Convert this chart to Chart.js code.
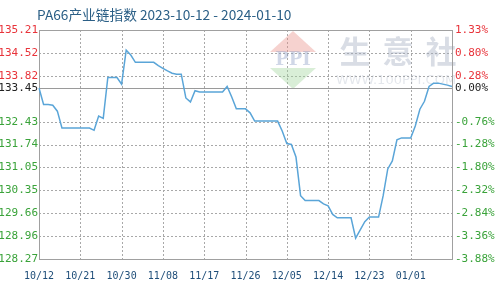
<!DOCTYPE html>
<html><head><meta charset="utf-8">
<script src="https://cdn.jsdelivr.net/npm/chart.js@4"></script>
<style>html,body{margin:0;padding:0;background:#fff}#wrap{width:499px;height:288px;position:relative}</style>
</head><body><div id="wrap"><canvas id="c"></canvas></div>
<script>
const titleText = 'PA66产业链指数 2023-10-12 - 2024-01-10';
const dates = [
'10/12','10/13','10/14','10/15','10/16','10/17','10/18','10/19','10/20','10/21',
'10/22','10/23','10/24','10/25','10/26','10/27','10/28','10/29','10/30','10/31',
'11/01','11/02','11/03','11/04','11/05','11/06','11/07','11/08','11/09','11/10',
'11/11','11/12','11/13','11/14','11/15','11/16','11/17','11/18','11/19','11/20',
'11/21','11/22','11/23','11/24','11/25','11/26','11/27','11/28','11/29','11/30',
'12/01','12/02','12/03','12/04','12/05','12/06','12/07','12/08','12/09','12/10',
'12/11','12/12','12/13','12/14','12/15','12/16','12/17','12/18','12/19','12/20',
'12/21','12/22','12/23','12/24','12/25','12/26','12/27','12/28','12/29','12/30',
'12/31','01/01','01/02','01/03','01/04','01/05','01/06','01/07','01/08','01/09','01/10'];
const indexValues = [
133.45,132.95,132.95,132.93,132.75,132.24,132.24,132.24,132.24,132.24,
132.24,132.24,132.17,132.60,132.53,133.77,133.77,133.77,133.57,134.60,
134.45,134.23,134.23,134.23,134.23,134.23,134.13,134.05,133.97,133.90,
133.87,133.87,133.15,133.03,133.37,133.33,133.33,133.33,133.33,133.33,
133.33,133.50,133.18,132.82,132.82,132.82,132.70,132.45,132.45,132.45,
132.45,132.45,132.45,132.15,131.77,131.74,131.36,130.19,130.04,130.04,
130.04,130.04,129.94,129.88,129.62,129.52,129.52,129.52,129.52,128.90,
129.15,129.40,129.54,129.54,129.54,130.19,131.00,131.24,131.88,131.94,
131.94,131.94,132.30,132.81,133.05,133.50,133.60,133.60,133.57,133.54,133.50];
const xTickLabels = ['10/12','10/21','10/30','11/08','11/17','11/26','12/05','12/14','12/23','01/01'];
const yTicks = [128.27,128.96,129.66,130.35,131.05,131.74,132.43,133.45,133.82,134.52,135.21];
const pctTicks = ['-3.88%','-3.36%','-2.84%','-2.32%','-1.80%','-1.28%','-0.76%','0.00%','0.28%','0.80%','1.33%'];
const baseValue = 133.45;
const yMin = 128.27, yMax = 135.21;

const RED = '#e8333a', GREEN = '#3aa33a', BASE = '#222';
const colorFor = v => Math.abs(v - baseValue) < 1e-6 ? BASE : (v > baseValue ? RED : GREEN);
const monoFont = {family: '"DejaVu Sans Mono", monospace', size: 10};

const decor = {
  id: 'decor',
  beforeDatasetsDraw(chart) {
    const {ctx, chartArea: a} = chart;
    const xs = chart.scales.x, ys = chart.scales.y;
    ctx.save();
    ctx.lineWidth = 1;
    ctx.strokeStyle = '#a8a8a8';
    ctx.setLineDash([2, 2]);
    ctx.beginPath();
    for (let i = 0; i < xs.ticks.length; i++) {
      const px = Math.round(xs.getPixelForTick(i)) + 0.5;
      ctx.moveTo(px, a.top); ctx.lineTo(px, a.bottom);
    }
    for (const v of yTicks) {
      if (Math.abs(v - baseValue) < 1e-6) continue;
      const py = Math.round(ys.getPixelForValue(v)) + 0.5;
      ctx.moveTo(a.left, py); ctx.lineTo(a.right, py);
    }
    ctx.stroke();
    ctx.setLineDash([]);
    // watermark logo
    const cx = 293;
    ctx.globalAlpha = 0.4;
    ctx.fillStyle = '#e98f88';
    ctx.beginPath(); ctx.moveTo(cx, 31); ctx.lineTo(cx + 23, 52); ctx.lineTo(cx - 23, 52); ctx.closePath(); ctx.fill();
    ctx.fillStyle = '#9fd59a';
    ctx.beginPath(); ctx.moveTo(cx - 23, 68); ctx.lineTo(cx + 23, 68); ctx.lineTo(cx, 89); ctx.closePath(); ctx.fill();
    ctx.fillStyle = '#8a9cc4';
    ctx.font = 'bold 18px "DejaVu Serif", serif';
    ctx.textAlign = 'center'; ctx.textBaseline = 'middle';
    ctx.fillText('PPI', cx, 60);
    ctx.globalAlpha = 0.42;
    ctx.fillStyle = '#a4afc0';
    ctx.font = 'bold 31px "Noto Sans CJK SC", sans-serif';
    ['生', '意', '社'].forEach((ch, i) => ctx.fillText(ch, 355 + i * 43, 51));
    ctx.globalAlpha = 0.3;
    ctx.font = '13px "DejaVu Sans", sans-serif';
    ctx.fillText('WWW.100PPI.COM', 396, 81);
    ctx.globalAlpha = 1;
    // baseline
    const yb = Math.round(ys.getPixelForValue(baseValue)) + 0.5;
    ctx.strokeStyle = '#9a9a9a'; ctx.lineWidth = 1.2;
    ctx.beginPath(); ctx.moveTo(a.left, yb); ctx.lineTo(a.right, yb); ctx.stroke();
    // frame
    ctx.strokeStyle = '#a0a0a0'; ctx.lineWidth = 1;
    ctx.strokeRect(Math.round(a.left) + 0.5, Math.round(a.top) + 0.5, Math.round(a.right - a.left), Math.round(a.bottom - a.top));
    ctx.restore();
  },
  afterDraw(chart) {
    const {ctx} = chart;
    ctx.save();
    ctx.fillStyle = '#2b5f86';
    ctx.font = '13.7px "Noto Sans CJK SC", "DejaVu Sans", sans-serif';
    ctx.textAlign = 'left'; ctx.textBaseline = 'middle';
    ctx.fillText(titleText, 37, 15);
    ctx.restore();
  }
};

new Chart(document.getElementById('c'), {
  type: 'line',
  data: {
    labels: dates,
    datasets: [{
      data: indexValues,
      borderColor: '#5aa5d8',
      borderWidth: 1.5,
      pointRadius: 0,
      tension: 0,
      fill: false
    }]
  },
  options: {
    responsive: true,
    maintainAspectRatio: false,
    animation: false,
    layout: {padding: {top: 30, right: 0, bottom: 0, left: 0}},
    plugins: {legend: {display: false}, tooltip: {enabled: false}, title: {display: false}},
    scales: {
      x: {
        type: 'category',
        offset: false,
        afterBuildTicks(scale) {
          scale.ticks = scale.ticks.filter(t => xTickLabels.includes(dates[t.value]) && t.value < dates.length - 1);
        },
        afterFit(scale) { scale.height = 29; },
        ticks: {autoSkip: false, maxRotation: 0, color: '#1f4e79', font: monoFont, padding: 11,
          callback(v) { return dates[v]; }},
        grid: {display: false, drawTicks: false},
        border: {color: '#a0a0a0'}
      },
      y: {
        position: 'left',
        min: yMin, max: yMax,
        afterBuildTicks(scale) { scale.ticks = yTicks.map(v => ({value: v})); },
        afterFit(scale) { scale.width = 39; },
        ticks: {color: c => colorFor(c.tick.value), font: {family: '"DejaVu Sans Mono", monospace', size: 11}, padding: 1,
          callback(v) { return Number(v).toFixed(2); }},
        grid: {display: false, drawTicks: false},
        border: {color: '#a0a0a0'}
      },
      y2: {
        position: 'right',
        min: yMin, max: yMax,
        afterBuildTicks(scale) { scale.ticks = yTicks.map(v => ({value: v})); },
        afterFit(scale) { scale.width = 47; },
        ticks: {color: c => colorFor(c.tick.value), font: {family: '"DejaVu Sans Mono", monospace', size: 11}, padding: 3,
          callback(v) { const i = yTicks.indexOf(v); return pctTicks[i]; }},
        grid: {display: false, drawTicks: false},
        border: {color: '#a0a0a0'}
      }
    }
  },
  plugins: [decor]
});
</script>
</body></html>
